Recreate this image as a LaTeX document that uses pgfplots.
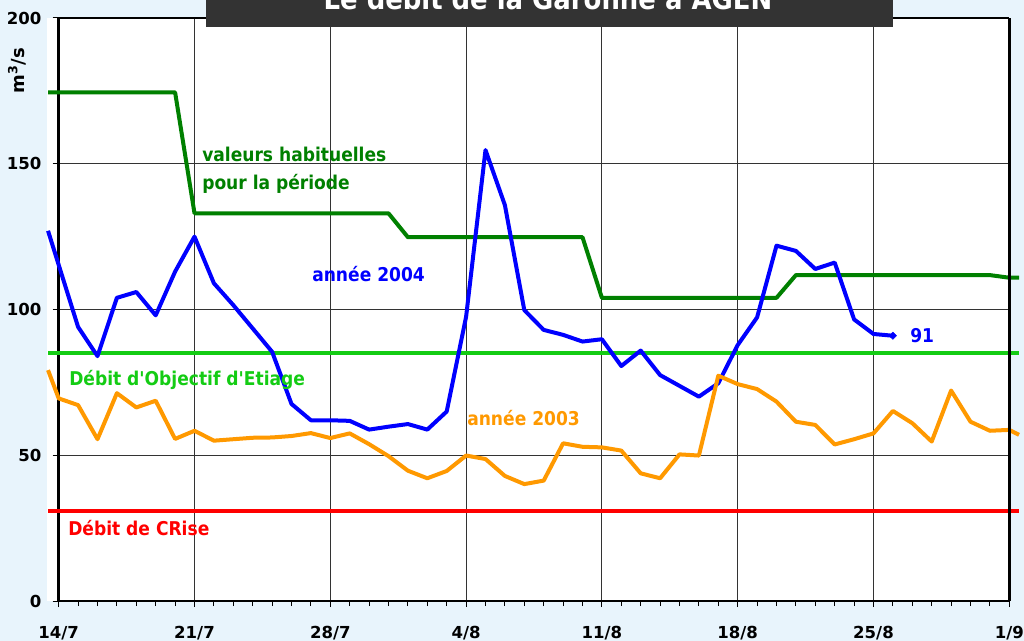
\documentclass[border=0pt]{standalone}
\usepackage{fontspec}
\setmainfont{DejaVu Sans}
\newfontfamily\annfont{DejaVu Sans Condensed Bold}
\usepackage{pgfplots}
\pgfplotsset{compat=1.18}
\definecolor{bgblue}{RGB}{232,244,252}
\definecolor{dgreen}{RGB}{0,128,0}
\definecolor{lgreen}{RGB}{20,204,20}
\definecolor{orng}{RGB}{255,153,0}
\definecolor{titlegray}{RGB}{51,51,51}
\begin{document}
\begin{tikzpicture}
\begin{scope}[x=0.75pt,y=-0.75pt]
\fill[bgblue] (0,0) rectangle (1024,641);
\fill[white] (47,18) rectangle (1009,601);
\end{scope}
\begin{axis}[
  at={(44.025pt,-450.75pt)}, anchor=south west,
  width=712.95pt, height=437.25pt, scale only axis,
  xmin=0, xmax=49, ymin=0, ymax=200,
  clip=false,
  axis x line*=bottom, axis y line*=left,
  axis line style={line width=2pt, black, -},
  xtick={0,7,...,49},
  xticklabels={14/7,21/7,28/7,4/8,11/8,18/8,25/8,1/9},
  minor x tick num=6,
  ytick={0,50,...,200},
  tick align=outside,
  major tick length=4.5pt, minor tick length=3.75pt,
  tick style={black, line width=0.75pt},
  grid=major, grid style={black!80, line width=0.75pt},
  ticklabel style={font=\fontsize{12.4}{14}\selectfont\bfseries, inner sep=0pt},
  /pgf/number format/assume math mode=true,
  yticklabel style={xshift=-8.25pt},
  xticklabel style={yshift=-14.25pt},
]
\addplot[color=lgreen, line width=3pt, mark=none] coordinates {(-0.55,85) (49.5,85)};
\addplot[color=red, line width=3pt, mark=none] coordinates {(-0.55,31) (49.5,31)};
\addplot[color=dgreen, line width=3pt, mark=none, line join=round] coordinates {
(-0.55,174.5) (6,174.5) (7,133) (17,133) (18,124.8) (27,124.8) (28,104) (37,104) (38,111.8) (48,111.8) (49,110.9) (49.5,110.9)};
\addplot[color=blue, line width=3pt, mark=none, line join=round] coordinates {
(-0.55,127) (1,94) (2,84) (3,104) (4,106) (5,98) (6,113) (7,125) (8,109) (9,101.5) (10,93.5) (11,85.5) (12,67.6) (13,62) (14,62) (15,61.8) (16,58.8) (17,59.8) (18,60.7) (19,58.8) (20,65) (21,97.5) (22,154.7) (23,135.8) (24,99.8) (25,93) (26,91.3) (27,89) (28,89.8) (29,80.6) (30,85.9) (31,77.5) (32,73.8) (33,70.1) (34,74.7) (35,87.8) (36,97.3) (37,121.9) (38,120.1) (39,113.9) (40,116.1) (41,96.6) (42,91.6) (43,91)};
\addplot[color=blue, only marks, mark=square*, mark size=1.9pt, mark options={rotate=45}] coordinates {(43,91)};
\addplot[color=orng, line width=3pt, mark=none, line join=round] coordinates {
(-0.55,79.2) (0,69.5) (1,67.2) (2,55.5) (3,71.3) (4,66.4) (5,68.7) (6,55.6) (7,58.4) (8,55) (9,55.5) (10,56) (11,56.1) (12,56.6) (13,57.6) (14,55.9) (15,57.5) (16,53.8) (17,49.7) (18,44.7) (19,42.1) (20,44.6) (21,49.9) (22,48.7) (23,42.9) (24,40.1) (25,41.3) (26,54.1) (27,52.9) (28,52.7) (29,51.6) (30,43.8) (31,42.1) (32,50.3) (33,49.9) (34,77.3) (35,74.4) (36,72.7) (37,68.4) (38,61.5) (39,60.4) (40,53.7) (41,55.5) (42,57.5) (43,65.2) (44,61) (45,54.7) (46,72.2) (47,61.5) (48,58.4) (49,58.7) (49.5,57)};
\draw[line width=1.3pt, black] (axis cs:0,200) -- (axis cs:49,200);
\draw[line width=2.1pt, black] (axis cs:49,0) -- (axis cs:49,200);
\end{axis}
\begin{scope}[x=0.75pt,y=-0.75pt, every node/.style={inner sep=0pt, anchor=base west, font=\annfont\fontsize{14.25}{16}\selectfont}]
\node[text=dgreen] at (202,162) {valeurs habituelles};
\node[text=dgreen] at (202,190) {pour la période};
\node[text=blue] at (312,282) {année 2004};
\node[text=lgreen] at (69,386) {Débit d'Objectif d'Etiage};
\node[text=orng] at (467,426) {année 2003};
\node[text=red] at (68,535) {Débit de CRise};
\node[text=blue] at (910,343) {91};
\fill[titlegray] (206,-5) rectangle (893,27);
\node[anchor=base, text=white, font=\annfont\fontsize{21.6}{24}\selectfont] at (548,10) {Le débit de la Garonne à AGEN};
\node[anchor=center, rotate=90, font=\bfseries\fontsize{13.5}{15}\selectfont] at (17,71) {m\textsuperscript{3}/s};
\pgfresetboundingbox
\useasboundingbox (0,0) rectangle (1024,641);
\end{scope}
\end{tikzpicture}
\end{document}
